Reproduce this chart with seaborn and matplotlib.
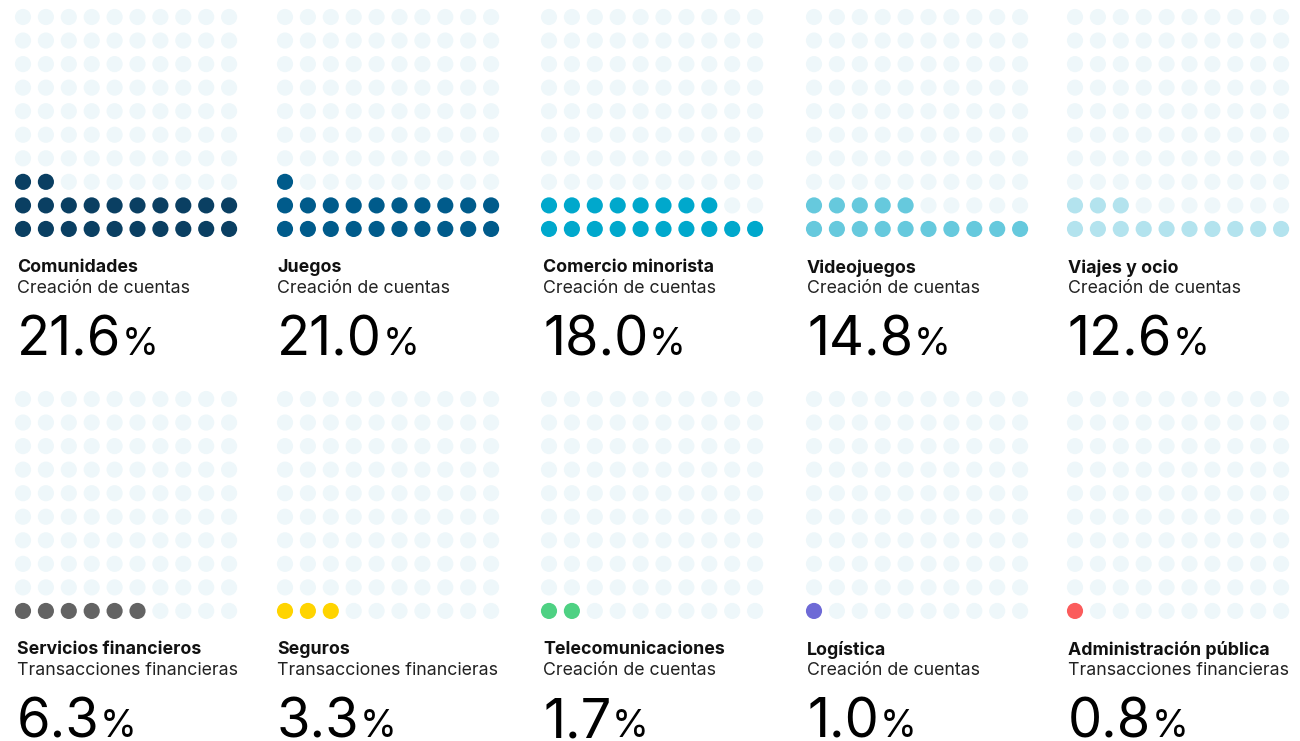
import numpy as np
import pandas as pd
import matplotlib
matplotlib.use("Agg")
import matplotlib.pyplot as plt
import seaborn as sns

# datos de la figura
sectores = ["Comunidades", "Juegos", "Comercio minorista", "Videojuegos", "Viajes y ocio",
            "Servicios financieros", "Seguros", "Telecomunicaciones", "Logística", "Administración pública"]
tipos = ["Creación de cuentas", "Creación de cuentas", "Creación de cuentas", "Creación de cuentas",
         "Creación de cuentas", "Transacciones financieras", "Transacciones financieras",
         "Creación de cuentas", "Creación de cuentas", "Transacciones financieras"]
porcentajes = [21.6, 21.0, 18.0, 14.8, 12.6, 6.3, 3.3, 1.7, 1.0, 0.8]
colores = ["#0a3f62", "#005b8b", "#00a8cc", "#66c9dd", "#b3e3ee",
           "#636363", "#ffd400", "#4ed183", "#6e6ad6", "#fb5c5c"]
color_vacio = "#eef7fa"

sns.set_style("white")
plt.rcParams["font.family"] = ["Inter", "DejaVu Sans"]

W, H = 1300, 741
fig = plt.figure(figsize=(W / 100, H / 100), dpi=100)
renderer = fig.canvas.get_renderer()

# grilla 10x10, se llena desde abajo a la izquierda
celdas = pd.DataFrame({"idx": np.arange(100)})
celdas["col"] = celdas["idx"] % 10
celdas["fila"] = celdas["idx"] // 10

puntos_x = [23, 285, 549, 814, 1075]   # centro del primer punto por columna (px)
texto_x = [17, 277, 543, 807, 1068]
dx, dy = 22.9, 23.55
for i, sector in enumerate(sectores):
    c, r = i % 5, i // 5
    x0 = puntos_x[c]
    ytop = 17 + 382 * r        # centro de la fila superior (px)
    left = x0 - dx / 2
    bottom = H - (ytop + 9 * dy + dy / 2)
    ax = fig.add_axes([left / W, bottom / H, 10 * dx / W, 10 * dy / H])

    n = int(round(porcentajes[i]))
    d = celdas.copy()
    d["lleno"] = np.where(d["idx"] < n, "si", "no")
    sns.scatterplot(data=d, x="col", y="fila", hue="lleno",
                    palette={"si": colores[i], "no": color_vacio},
                    s=135, linewidth=0, legend=False, ax=ax)
    ax.set_xlim(-0.5, 9.5)
    ax.set_ylim(-0.5, 9.5)
    ax.axis("off")

    tx = texto_x[c] / W
    ty = 259 + 382 * r
    fig.text(tx, 1 - ty / H, sector, fontsize=12.8, fontweight="bold", color="#111111", va="top")
    fig.text(tx, 1 - (ty + 21) / H, tipos[i], fontsize=12.8, color="#222222", va="top")
    base = 1 - (ty + 96) / H
    num = fig.text(tx, base, f"{porcentajes[i]:.1f}", fontsize=39,
                   color="#000000", va="baseline")
    x1 = num.get_window_extent(renderer).x1
    fig.text((x1 + 0.5) / W, base, "%", fontsize=27, color="#000000", va="baseline")

fig.savefig("out.png", dpi=100, facecolor="white")
